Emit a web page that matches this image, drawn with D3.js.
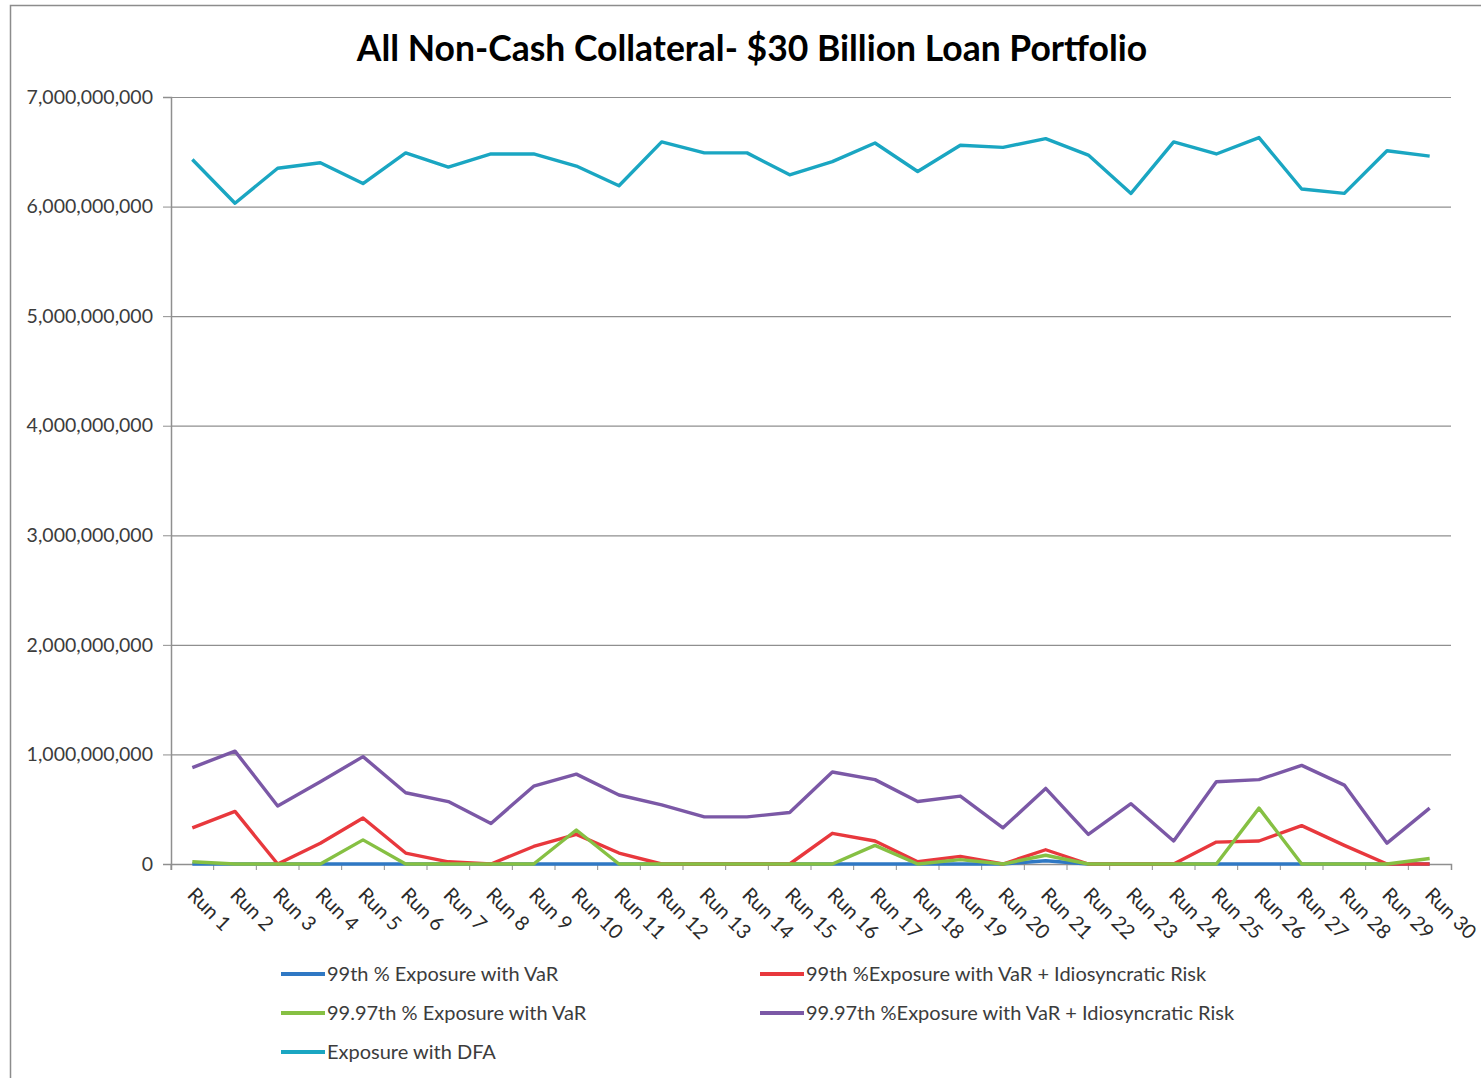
<!DOCTYPE html>
<html>
<head>
<meta charset="utf-8">
<script src="https://cdn.jsdelivr.net/npm/d3@7"></script>
<style>
  body { margin: 0; background: #fff; }
  svg { display: block; }
</style>
</head>
<body>
<div id="chart"></div>
<script>
// Categories and series
const runs = d3.range(1, 31).map(i => "Run " + i);
const yTicks = [0, 1e9, 2e9, 3e9, 4e9, 5e9, 6e9, 7e9];

const var99 = [0,0,0,0,0,0,0,0,0,0, 0,0,0,0,0,0,0,0,0,0, 0.03e9,0,0,0,0,0,0,0,0,0];
const varIdio99 = [0.33e9,0.48e9,0,0.19e9,0.42e9,0.10e9,0.02e9,0,0.16e9,0.27e9,
                   0.10e9,0,0,0,0,0.28e9,0.21e9,0.02e9,0.07e9,0,
                   0.13e9,0,0,0,0.20e9,0.21e9,0.35e9,0.17e9,0,0];
const var9997 = [0.02e9,0,0,0,0.22e9,0,0,0,0,0.31e9,
                 0,0,0,0,0,0,0.17e9,0,0.04e9,0,
                 0.08e9,0,0,0,0,0.51e9,0,0,0,0.05e9];
const varIdio9997 = [0.88e9,1.03e9,0.53e9,0.75e9,0.98e9,0.65e9,0.57e9,0.37e9,0.71e9,0.82e9,
                     0.63e9,0.54e9,0.43e9,0.43e9,0.47e9,0.84e9,0.77e9,0.57e9,0.62e9,0.33e9,
                     0.69e9,0.27e9,0.55e9,0.21e9,0.75e9,0.77e9,0.90e9,0.72e9,0.19e9,0.51e9];
const dfa = [6.43e9,6.03e9,6.35e9,6.40e9,6.21e9,6.49e9,6.36e9,6.48e9,6.48e9,6.37e9,
             6.19e9,6.59e9,6.49e9,6.49e9,6.29e9,6.41e9,6.58e9,6.32e9,6.56e9,6.54e9,
             6.62e9,6.47e9,6.12e9,6.59e9,6.48e9,6.63e9,6.16e9,6.12e9,6.51e9,6.46e9];

const series = [
  {name: "99th % Exposure with VaR", values: var99, color: "#2f78c4"},
  {name: "99th %Exposure with VaR + Idiosyncratic Risk", values: varIdio99, color: "#e8383d"},
  {name: "99.97th % Exposure with VaR", values: var9997, color: "#86c043"},
  {name: "99.97th %Exposure with VaR + Idiosyncratic Risk", values: varIdio9997, color: "#7b58a6"},
  {name: "Exposure with DFA", values: dfa, color: "#1aa6c2"}
];

const W = 1481, H = 1078;
const plot = {left: 171, right: 1451, top: 97, bottom: 864};
const font = "Lato, 'Open Sans', sans-serif";

const svg = d3.select("#chart").append("svg")
  .attr("width", W).attr("height", H);

// outer frame
svg.append("rect")
  .attr("x", 10.5).attr("y", 5.5).attr("width", 1480).attr("height", 1090)
  .attr("fill", "#fff").attr("stroke", "#8c8c8c").attr("stroke-width", 1.5);

// title
svg.append("text")
  .attr("x", 752).attr("y", 61)
  .attr("text-anchor", "middle")
  .attr("font-family", font).attr("font-weight", "bold")
  .attr("font-size", 35.5).attr("fill", "#000")
  .text("All Non-Cash Collateral- $30 Billion Loan Portfolio");

// scales
const x = d3.scaleBand().domain(runs).range([plot.left, plot.right]);
const xc = d => x(d) + x.bandwidth() / 2;
const y = d3.scaleLinear().domain([0, 7e9]).range([plot.bottom, plot.top]);

// gridlines
svg.append("g")
  .attr("transform", `translate(${plot.left},0)`)
  .call(d3.axisLeft(y).tickValues(yTicks.slice(1)).tickSize(-(plot.right - plot.left)).tickFormat(""))
  .call(g => g.select(".domain").remove())
  .call(g => g.selectAll("line").attr("stroke", "#8f8f8f").attr("stroke-width", 1.2));

// y axis
svg.append("g")
  .attr("transform", `translate(${plot.left},0)`)
  .call(d3.axisLeft(y).tickValues(yTicks).tickFormat(d3.format(",")).tickSize(8).tickPadding(10))
  .call(g => g.select(".domain").attr("stroke", "#8f8f8f").attr("stroke-width", 1.5))
  .call(g => g.selectAll("line").attr("stroke", "#8f8f8f"))
  .call(g => g.selectAll("text").attr("font-family", font).attr("font-size", 19.5).attr("fill", "#3c3c3c"));

// x axis
const xAxis = svg.append("g")
  .attr("transform", `translate(0,${plot.bottom})`)
  .call(d3.axisBottom(x).tickSize(6).tickFormat(""));
xAxis.select(".domain").attr("stroke", "#8f8f8f").attr("stroke-width", 1.5);
xAxis.selectAll(".tick line")
  .attr("transform", `translate(${-x.bandwidth() / 2},0)`)
  .attr("stroke", "#8f8f8f");

// x labels, rotated
svg.append("g").selectAll("text")
  .data(runs).join("text")
  .attr("transform", d => `translate(${xc(d) - 6},${plot.bottom + 32}) rotate(45)`)
  .attr("font-family", font).attr("font-size", 20).attr("fill", "#2a2a2a")
  .text(d => d);

// lines
const line = d3.line().x((d, i) => xc(runs[i])).y(d => y(d));
svg.append("g").selectAll("path")
  .data(series).join("path")
  .attr("d", d => line(d.values))
  .attr("fill", "none")
  .attr("stroke", d => d.color)
  .attr("stroke-width", 3.4)
  .attr("stroke-linejoin", "round");

// legend
const legendPos = [
  [281, 974], [760, 974], [281, 1013], [760, 1013], [281, 1052]
];
const lg = svg.append("g").selectAll("g")
  .data(series).join("g")
  .attr("transform", (d, i) => `translate(${legendPos[i][0]},${legendPos[i][1]})`);
lg.append("line")
  .attr("x1", 0).attr("x2", 44).attr("y1", 0).attr("y2", 0)
  .attr("stroke", d => d.color).attr("stroke-width", 4);
lg.append("text")
  .attr("x", 46).attr("y", 7)
  .attr("font-family", font).attr("font-size", 20).attr("fill", "#3c3c3c")
  .text(d => d.name);
</script>
</body>
</html>
